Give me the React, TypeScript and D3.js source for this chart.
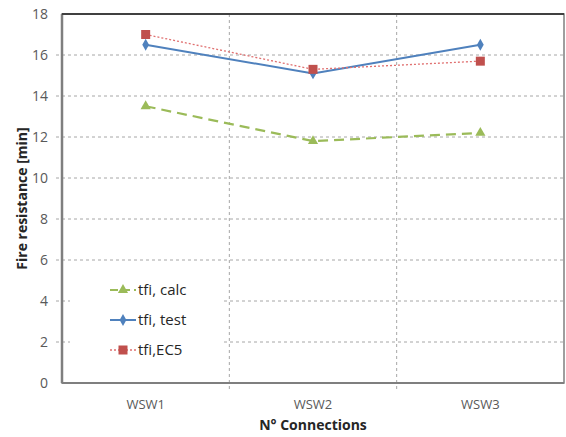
import React from 'react';
import * as d3 from 'd3';

const categories = ['WSW1', 'WSW2', 'WSW3'];
const calcValues = [13.5, 11.8, 12.2];
const testValues = [16.5, 15.1, 16.5];
const ec5Values = [17.0, 15.3, 15.7];
const yTicks = [0, 2, 4, 6, 8, 10, 12, 14, 16, 18];

const width = 566;
const height = 437;
const left = 62;
const right = 564;
const top = 14;
const bottom = 383;
const font = "'Open Sans', 'DejaVu Sans', sans-serif";

const App: React.FC = () => {
  const x = d3.scaleBand<string>().domain(categories).range([left, right]);
  const y = d3.scaleLinear().domain([0, 18]).range([bottom, top]);
  const cx = (c: string) => (x(c) ?? 0) + x.bandwidth() / 2;

  const line = d3.line<number>()
    .x((_, i) => cx(categories[i]))
    .y(d => y(d));

  const diamond = d3.symbol().type(d3.symbolDiamond).size(40)();
  const triangle = d3.symbol().type(d3.symbolTriangle).size(45)();

  const legendRows = [
    { label: 'tfi, calc', color: '#9BBB59', dash: '8,4', kind: 'tri' },
    { label: 'tfi, test', color: '#4F81BD', dash: 'none', kind: 'dia' },
    { label: 'tfi,EC5', color: '#E07070', dash: '2,2', kind: 'sq' },
  ];

  const marker = (kind: string, px: number, py: number, key: string | number) => {
    if (kind === 'tri') return <path key={key} d={triangle} transform={`translate(${px},${py})`} fill="#9BBB59" />;
    if (kind === 'dia') return <path key={key} d={diamond} transform={`translate(${px},${py})`} fill="#4F81BD" />;
    return <rect key={key} x={px - 4.5} y={py - 4.5} width={9} height={9} fill="#C0504D" />;
  };

  return (
    <svg width={width} height={height} style={{ position: 'absolute', left: 0, top: 0, background: '#fff' }}>
      {/* horizontal grid */}
      {yTicks.filter(t => t > 0 && t < 18).map(t => (
        <line key={t} x1={left - 6} x2={right} y1={y(t)} y2={y(t)} stroke="#a6a6a6" strokeWidth={1} strokeDasharray="3,3" />
      ))}
      {/* vertical grid */}
      {categories.slice(1).map(c => (
        <line key={c} x1={x(c)} x2={x(c)} y1={top} y2={bottom + 6} stroke="#a6a6a6" strokeWidth={1} strokeDasharray="3,3" />
      ))}
      {/* legend background */}
      <rect x={70} y={268} width={154} height={106} fill="#fff" />
      {/* frame */}
      <rect x={left} y={top} width={right - left} height={bottom - top} fill="none" stroke="#7f7f7f" strokeWidth={1.5} />
      <line x1={left} x2={left} y1={top} y2={bottom} stroke="#7f7f7f" strokeWidth={2.5} />
      <line x1={left} x2={right} y1={top} y2={top} stroke="#404040" strokeWidth={2} />
      <line x1={left} x2={right} y1={bottom} y2={bottom} stroke="#7f7f7f" strokeWidth={2} />
      {/* y ticks */}
      {yTicks.map(t => (
        <text key={t} x={left - 14} y={y(t)} dy="0.35em" textAnchor="end" fontFamily={font} fontSize={14} fill="#595959">{t}</text>
      ))}
      {/* x labels */}
      {categories.map(c => (
        <text key={c} x={cx(c)} y={409} textAnchor="middle" fontFamily={font} fontSize={13} fill="#595959">{c}</text>
      ))}
      <text x={(left + right) / 2} y={430} textAnchor="middle" fontFamily={font} fontSize={14} fontWeight="bold" fill="#262626">N° Connections</text>
      <text transform={`translate(27,${(top + bottom) / 2}) rotate(-90)`} textAnchor="middle" fontFamily={font} fontSize={14} fontWeight="bold" fill="#262626">Fire resistance [min]</text>
      {/* series */}
      <path d={line(calcValues) ?? ''} fill="none" stroke="#9BBB59" strokeWidth={2.2} strokeDasharray="10,6" />
      <path d={line(testValues) ?? ''} fill="none" stroke="#4F81BD" strokeWidth={2} />
      <path d={line(ec5Values) ?? ''} fill="none" stroke="#E07070" strokeWidth={1.3} strokeDasharray="2,2" />
      {calcValues.map((v, i) => marker('tri', cx(categories[i]), y(v), 'c' + i))}
      {testValues.map((v, i) => marker('dia', cx(categories[i]), y(v), 't' + i))}
      {ec5Values.map((v, i) => marker('sq', cx(categories[i]), y(v), 'e' + i))}
      {/* legend */}
      {legendRows.map((r, i) => {
        const ly = 290 + i * 30;
        return (
          <g key={r.label}>
            <line x1={110} x2={136} y1={ly} y2={ly} stroke={r.color} strokeWidth={r.kind === 'sq' ? 1.3 : 2} strokeDasharray={r.dash} />
            {marker(r.kind, 123, ly, 'm' + i)}
            <text x={138} y={ly} dy="0.35em" fontFamily={font} fontSize={15} fill="#262626">{r.label}</text>
          </g>
        );
      })}
    </svg>
  );
};

export default App;
